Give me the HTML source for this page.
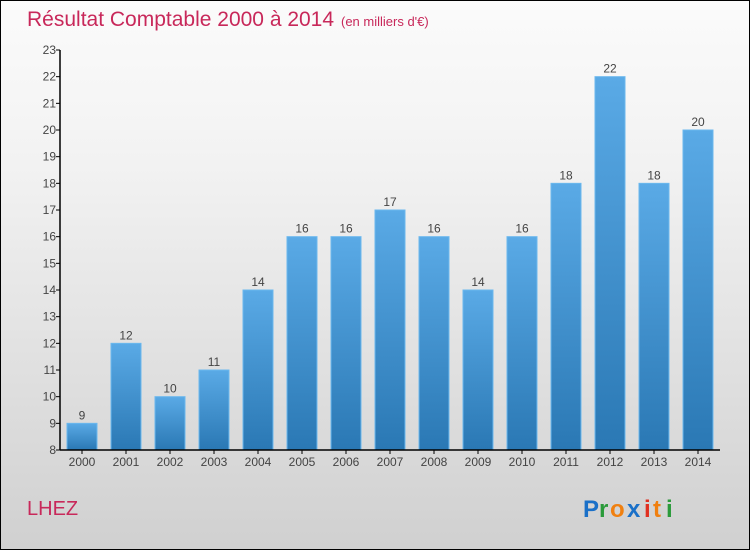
<!DOCTYPE html>
<html><head><meta charset="utf-8"><style>
body{margin:0}
#wrap{position:relative;width:748px;height:548px;border:1px solid #000;background:linear-gradient(#fbfbfb,#f2f2f2 30%,#d0d0d0);font-family:"Liberation Sans",sans-serif;overflow:hidden}
</style></head><body>
<div id="wrap">
<svg width="748" height="548">
<defs><linearGradient id="bg" x1="0" y1="0" x2="0" y2="1"><stop offset="0" stop-color="#5aaae6"/><stop offset="1" stop-color="#2a78b4"/></linearGradient></defs>
<text x="26" y="25" font-size="21" fill="#c8285a">Résultat Comptable 2000 à 2014</text>
<text x="340" y="25" font-size="13" fill="#c8285a">(en milliers d'€)</text>
<text x="26" y="514" font-size="20" fill="#c8285a">LHEZ</text>
<g font-size="24" font-weight="bold">
<text x="582" y="516" fill="#1a70c8">P</text><text x="598" y="516" fill="#2a9a3a">r</text><text x="609" y="516" fill="#f08010">o</text><text x="626" y="516" fill="#1a70c8">x</text><text x="643" y="516" fill="#e03020">i</text><text x="652" y="516" fill="#f08010">t</text><text x="665" y="516" fill="#2a9a3a">i</text></g>
<g id="plot"></g>
</svg></div>
<script>
const years=["2000","2001","2002","2003","2004","2005","2006","2007","2008","2009","2010","2011","2012","2013","2014"];
const values=[9,12,10,11,14,16,16,17,16,14,16,18,22,18,20];
const yTicks=[8,9,10,11,12,13,14,15,16,17,18,19,20,21,22,23];
const ns="http://www.w3.org/2000/svg";
const g=document.getElementById('plot');
const x0=59,step=44,yMin=8,yMax=23,yb=449,yt=49;
const y=v=>yb-(v-yMin)/(yMax-yMin)*(yb-yt);
function mk(t,a){const e=document.createElementNS(ns,t);for(const k in a)e.setAttribute(k,a[k]);g.appendChild(e);return e;}
yTicks.forEach(v=>{
const l=mk('line',{x1:x0-4,x2:x0,y1:y(v),y2:y(v),stroke:'#000'});


const t=mk('text',{x:x0-4,y:y(v)+4,'text-anchor':'end','font-size':12,fill:'#444'});
t.textContent=v;


});
years.forEach((yr,i)=>{
const cx=x0+step*i+step/2,v=values[i];
const r=mk('rect',{x:cx-15,y:y(v),width:30,height:yb-y(v),fill:'url(#bg)',stroke:'#6bb8ee','stroke-width':1});


const vl=mk('text',{x:cx,y:y(v)-4,'text-anchor':'middle','font-size':12,fill:'#444'});
vl.textContent=v;


const xl=mk('text',{x:cx,y:yb+16,'text-anchor':'middle','font-size':12,fill:'#444'});
xl.textContent=yr;


const tk=mk('line',{x1:cx,x2:cx,y1:yb,y2:yb+4,stroke:'#000'});


});
const ya=mk('line',{x1:x0,x2:x0,y1:yt,y2:yb,stroke:'#000','stroke-width':1.5});


const xa=mk('line',{x1:x0,x2:x0+step*15,y1:yb,y2:yb,stroke:'#000','stroke-width':1.5});


</script>
</body></html>
